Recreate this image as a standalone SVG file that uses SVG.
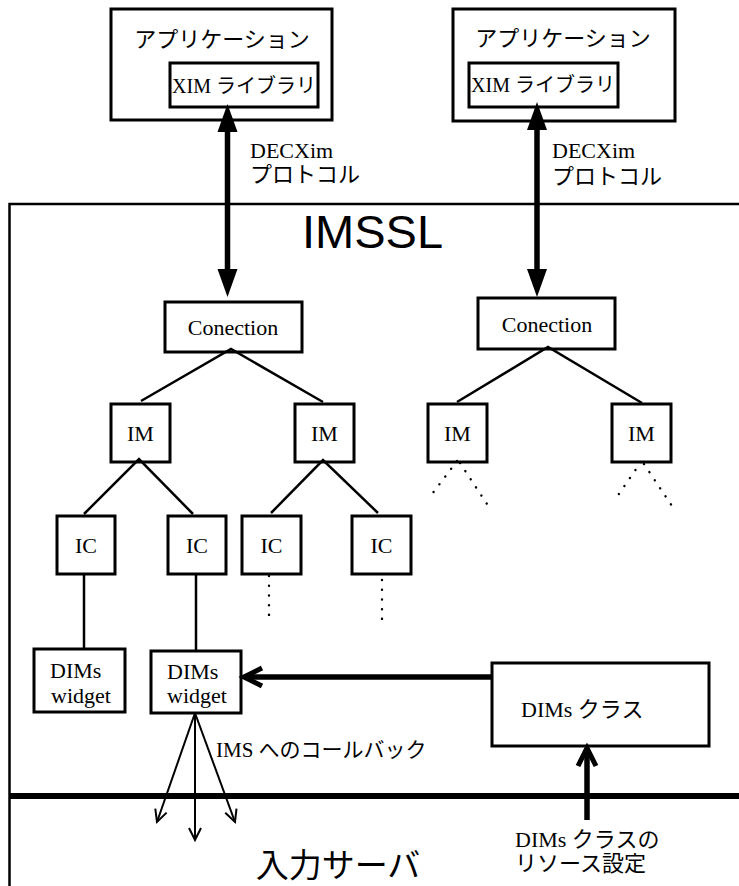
<svg xmlns="http://www.w3.org/2000/svg" width="739" height="886" viewBox="0 0 739 886">
<style>
.box{fill:#fff;stroke:#000;stroke-width:3}
.ln{fill:none;stroke:#000;stroke-width:2.5}
.thin{fill:none;stroke:#000;stroke-width:2}
.thick{fill:none;stroke:#000;stroke-width:5.5}
.dot{fill:none;stroke:#000;stroke-width:2.4;stroke-dasharray:0.1 9.6;stroke-linecap:round}
.t{font-family:'Liberation Serif','Times New Roman','DejaVu Serif',serif;font-size:22px;fill:#000}
.j{font-family:'Noto Sans CJK JP','Noto Sans',sans-serif;font-size:22px;fill:#000}
.m{text-anchor:middle}
</style>
<defs>
<marker id="fillhead" markerUnits="userSpaceOnUse" markerWidth="30" markerHeight="22" refX="4" refY="10" orient="auto-start-reverse" overflow="visible">
<path d="M0,0 L28,10 L0,20 z" fill="#000"/>
</marker>
<marker id="vthick" markerUnits="userSpaceOnUse" markerWidth="24" markerHeight="24" refX="19" refY="10" orient="auto" overflow="visible">
<path d="M1,1 L19,10 L1,19" fill="none" stroke="#000" stroke-width="5"/>
</marker>
<marker id="vthin" markerUnits="userSpaceOnUse" markerWidth="14" markerHeight="14" refX="12" refY="6" orient="auto" overflow="visible">
<path d="M0,0 L12,6 L0,12" fill="none" stroke="#000" stroke-width="2"/>
</marker>
</defs>
<rect width="739" height="886" fill="#fff"/>

<g id="imssl">
<path d="M9.5,886 V204 H739" fill="none" stroke="#000" stroke-width="2.5"/>
<text x="302" y="248" font-family="'Liberation Sans',Arial,sans-serif" font-size="47">IMSSL</text>
</g>

<g id="app-left">
<rect class="box" x="111" y="9" width="221" height="111"/>
<text class="j m" x="222" y="47">アプリケーション</text>
<g id="xim-left">
<rect class="box" x="170" y="63" width="148" height="44"/>
<text class="t m" x="244" y="93" font-size="20" style="font-size:20px">XIM <tspan class="j" style="font-size:20px">ライブラリ</tspan></text>
</g>
</g>

<g id="app-right">
<rect class="box" x="453" y="9" width="222" height="112"/>
<text class="j m" x="563" y="46">アプリケーション</text>
<g id="xim-right">
<rect class="box" x="469" y="63" width="149" height="44"/>
<text class="t m" x="543" y="92" style="font-size:20px">XIM <tspan class="j" style="font-size:20px">ライブラリ</tspan></text>
</g>
</g>

<g id="conn-left"><rect class="box" x="165" y="302" width="137" height="50"/><text class="t m" x="233" y="335">Conection</text></g>
<g id="conn-right"><rect class="box" x="478" y="298" width="137" height="51"/><text class="t m" x="547" y="332">Conection</text></g>

<g id="im1"><rect class="box" x="111" y="404" width="59" height="58"/><text class="t m" x="140.5" y="441">IM</text></g>
<g id="im2"><rect class="box" x="295" y="404" width="59" height="58"/><text class="t m" x="324.5" y="441">IM</text></g>
<g id="im3"><rect class="box" x="428" y="404" width="59" height="58"/><text class="t m" x="457.5" y="441">IM</text></g>
<g id="im4"><rect class="box" x="612" y="404" width="59" height="58"/><text class="t m" x="641.5" y="441">IM</text></g>

<g id="ic1"><rect class="box" x="57" y="516" width="58" height="58"/><text class="t m" x="86" y="553">IC</text></g>
<g id="ic2"><rect class="box" x="168" y="516" width="58" height="58"/><text class="t m" x="197" y="553">IC</text></g>
<g id="ic3"><rect class="box" x="242" y="516" width="59" height="58"/><text class="t m" x="271.5" y="553">IC</text></g>
<g id="ic4"><rect class="box" x="352" y="516" width="59" height="58"/><text class="t m" x="381.5" y="553">IC</text></g>

<g id="widget1"><rect class="box" x="34" y="649" width="91" height="63"/><text class="t" x="50" y="678">DIMs</text><text class="t" x="51" y="703">widget</text></g>
<g id="widget2"><rect class="box" x="151" y="651" width="90" height="62"/><text class="t" x="167" y="679">DIMs</text><text class="t" x="167" y="703">widget</text></g>

<g id="dims-class"><rect class="box" x="492" y="663" width="217" height="83"/><text class="t" x="521" y="717">DIMs <tspan class="j">クラス</tspan></text></g>

<g id="server">
<text class="j m" x="338" y="877" style="font-size:33px">入力サーバ</text>
</g>

<g id="connectors">
<line class="thick" x1="227.5" y1="128" x2="227.5" y2="273" marker-start="url(#fillhead)" marker-end="url(#fillhead)"/>
<line class="thick" x1="537" y1="126" x2="537" y2="273" marker-start="url(#fillhead)" marker-end="url(#fillhead)"/>
<polyline class="ln" points="141,401 231,349 323,402"/>
<polyline class="ln" points="457,402 548,347 642,403"/>
<polyline class="ln" points="84,514 139,459 193,514"/>
<polyline class="ln" points="271,513 323,460 378,513"/>
<line class="dot" x1="457" y1="461" x2="429" y2="498"/>
<line class="dot" x1="460" y1="463" x2="489" y2="507"/>
<line class="dot" x1="641" y1="462" x2="614" y2="501"/>
<line class="dot" x1="644" y1="464" x2="674" y2="509"/>
<line class="dot" x1="269" y1="576" x2="269" y2="621"/>
<line class="dot" x1="382" y1="580" x2="382" y2="628"/>
<line class="ln" x1="84" y1="574" x2="84" y2="649"/>
<line class="ln" x1="196" y1="574" x2="196" y2="651"/>
<line class="thick" x1="492" y1="677" x2="244" y2="677" marker-end="url(#vthick)"/>
<line class="thick" x1="587" y1="820" x2="587" y2="748" marker-end="url(#vthick)"/>
<line x1="9" y1="796" x2="739" y2="796" stroke="#000" stroke-width="6"/>
<line class="thin" x1="195" y1="713" x2="157" y2="822" marker-end="url(#vthin)"/>
<line class="thin" x1="195" y1="713" x2="195" y2="840" marker-end="url(#vthin)"/>
<line class="thin" x1="195" y1="713" x2="235" y2="822" marker-end="url(#vthin)"/>
</g>

<g id="labels">
<text class="t" x="250" y="158">DECXim</text>
<text class="j" x="250" y="182">プロトコル</text>
<text class="t" x="552" y="158">DECXim</text>
<text class="j" x="552" y="184">プロトコル</text>
<text class="t" x="216" y="757" style="font-size:21px">IMS <tspan class="j" style="font-size:21px">へのコールバック</tspan></text>
<text class="t" x="515" y="847">DIMs <tspan class="j">クラスの</tspan></text>
<text class="j" x="515" y="871">リソース設定</text>
</g>
</svg>
